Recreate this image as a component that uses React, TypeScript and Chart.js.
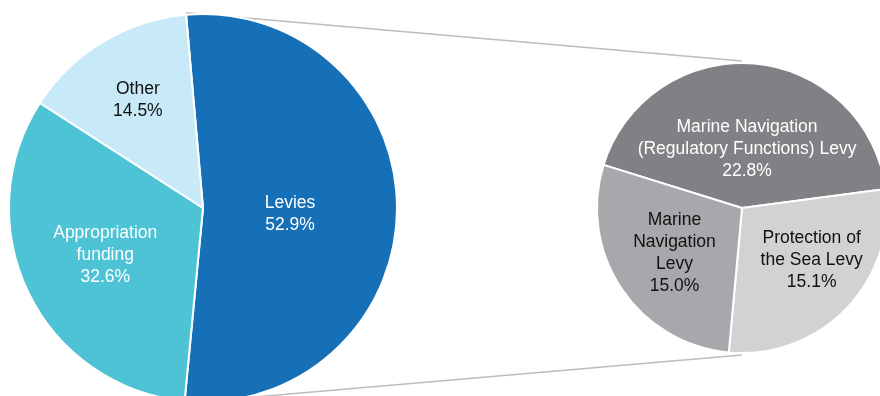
import React, { useEffect, useRef } from "react";
import { Chart, registerables } from "chart.js";

Chart.register(...registerables);

// ---- Data ----
const mainCategories = ["Levies", "Appropriation funding", "Other"];
const mainValues = [52.9, 32.6, 14.5];
const mainLabelLines = [["Levies"], ["Appropriation", "funding"], ["Other"]];
const mainColors = ["#1570B8", "#4DC3D5", "#C7E9F8"];
const mainTextColors = ["#FFFFFF", "#FFFFFF", "#111111"];

const subCategories = [
  "Marine Navigation (Regulatory Functions) Levy",
  "Protection of the Sea Levy",
  "Marine Navigation Levy",
];
const subValues = [22.8, 15.1, 15.0];
const subLabelLines = [
  ["Marine Navigation", "(Regulatory Functions) Levy"],
  ["Protection of", "the Sea Levy"],
  ["Marine", "Navigation", "Levy"],
];
const subColors = ["#808184", "#D1D2D4", "#A7A8AB"];
const subTextColors = ["#FFFFFF", "#111111", "#111111"];

// ---- Layout (not data) ----
const W = 880;
const H = 396;
const CH = 416;
const MAIN_CX = 203;
const MAIN_R = 194;
const SUB_CX = 742;
const SUB_R = 145;
const CY = 208;
const mainLabelPlace = [
  { frac: 0.45, dAng: 4 },
  { frac: 0.56, dAng: 0 },
  { frac: 0.65, dAng: 0 },
];
const subLabelPlace = [
  { frac: 0.41, dAng: 0 },
  { frac: 0.6, dAng: -7 },
  { frac: 0.56, dAng: 0 },
];
const FONT = "17.5px 'Liberation Sans', Arial, sans-serif";
const LINE_H = 22;

function labelPlugin(lines: string[][], values: number[], colors: string[], place: { frac: number; dAng: number }[]) {
  return {
    id: "sliceLabels",
    afterDatasetsDraw(chart: any) {
      const ctx = chart.ctx;
      const meta = chart.getDatasetMeta(0);
      ctx.save();
      ctx.font = FONT;
      ctx.textAlign = "center";
      ctx.textBaseline = "middle";
      meta.data.forEach((arc: any, i: number) => {
        const p = arc.getProps(["x", "y", "startAngle", "endAngle", "outerRadius"], true);
        const mid = (p.startAngle + p.endAngle) / 2 + (place[i].dAng * Math.PI) / 180;
        const r = p.outerRadius * place[i].frac;
        const cx = p.x + Math.cos(mid) * r;
        const cy = p.y + Math.sin(mid) * r;
        const all = [...lines[i], values[i].toFixed(1) + "%"];
        const top = cy - ((all.length - 1) * LINE_H) / 2;
        ctx.fillStyle = colors[i];
        all.forEach((t, k) => ctx.fillText(t, cx, top + k * LINE_H));
      });
      ctx.restore();
    },
  };
}

const connectorPlugin = {
  id: "connectors",
  beforeDatasetsDraw(chart: any) {
    const ctx = chart.ctx;
    const meta = chart.getDatasetMeta(0);
    const levies = meta.data[0].getProps(["x", "y", "startAngle", "endAngle", "outerRadius"], true);
    const rr = levies.outerRadius + 2;
    const a1 = levies.startAngle;
    const a2 = levies.endAngle;
    ctx.save();
    ctx.strokeStyle = "#BDBDBD";
    ctx.lineWidth = 1.5;
    ctx.beginPath();
    ctx.moveTo(levies.x + Math.cos(a1) * rr, levies.y + Math.sin(a1) * rr);
    ctx.lineTo(SUB_CX, CY - SUB_R - 2);
    ctx.moveTo(levies.x + Math.cos(a2) * rr, levies.y + Math.sin(a2) * rr);
    ctx.lineTo(SUB_CX, CY + SUB_R + 2);
    ctx.stroke();
    ctx.restore();
  },
};

export default function App() {
  const mainRef = useRef<HTMLCanvasElement>(null);
  const subRef = useRef<HTMLCanvasElement>(null);

  useEffect(() => {
    const common = {
      responsive: false,
      animation: false as const,
      events: [] as any[],
      plugins: { legend: { display: false }, tooltip: { enabled: false } },
    };
    const main = new Chart(mainRef.current!, {
      type: "pie",
      data: {
        labels: mainCategories,
        datasets: [
          {
            data: mainValues,
            backgroundColor: mainColors,
            borderColor: "#FFFFFF",
            borderWidth: 2,
            hoverOffset: 0,
            clip: false as any,
          },
        ],
      },
      options: {
        ...common,
        rotation: -5,
        radius: MAIN_R,
        layout: { padding: { left: 0, top: 0, bottom: 0, right: W - 2 * MAIN_CX } },
      } as any,
      plugins: [connectorPlugin, labelPlugin(mainLabelLines, mainValues, mainTextColors, mainLabelPlace)],
    });
    const sub = new Chart(subRef.current!, {
      type: "pie",
      data: {
        labels: subCategories,
        datasets: [
          {
            data: subValues,
            backgroundColor: subColors,
            borderColor: "#FFFFFF",
            borderWidth: 2,
            hoverOffset: 0,
            clip: false as any,
          },
        ],
      },
      options: {
        ...common,
        rotation: 287.3,
        radius: SUB_R,
        layout: { padding: { left: SUB_CX - (W - SUB_CX), top: 0, bottom: 0, right: 0 } },
      } as any,
      plugins: [labelPlugin(subLabelLines, subValues, subTextColors, subLabelPlace)],
    });
    return () => {
      main.destroy();
      sub.destroy();
    };
  }, []);

  const cs: React.CSSProperties = { position: "absolute", left: 0, top: 0, width: W, height: CH };
  return (
    <div style={{ position: "fixed", left: 0, top: 0, width: W, height: H, overflow: "hidden", background: "#FFFFFF" }}>
      <canvas ref={mainRef} width={W} height={CH} style={cs} />
      <canvas ref={subRef} width={W} height={CH} style={cs} />
    </div>
  );
}
